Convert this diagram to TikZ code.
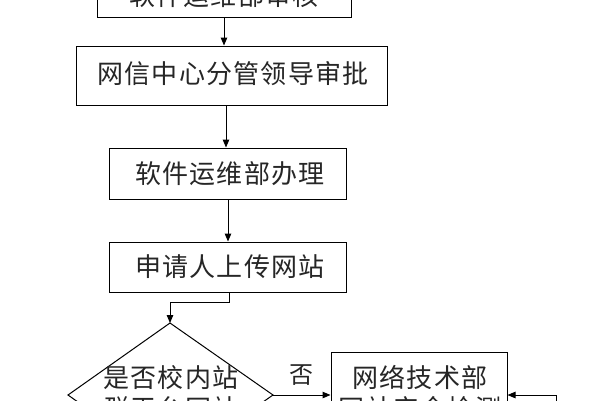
\documentclass[tikz,border=0pt]{standalone}
\usepackage{fontspec}
\newfontfamily\cjk[LetterSpace=5]{Noto Sans CJK SC}
\usetikzlibrary{arrows.meta,calc}
\begin{document}
\begin{tikzpicture}[x=1pt,y=-1pt,
  line width=1pt,
  arr/.style={-{Triangle[length=8pt,width=6.5pt]}},
  box/.style={draw,rectangle,inner sep=0pt},
  txt/.style={font=\cjk\fontsize{26}{31}\selectfont,text=black!85,align=center,inner sep=0pt}]
\useasboundingbox[fill=white] (0,0) rectangle (600,400);
% boxes
\node[box,minimum width=254pt,minimum height=42pt] (b1) at (224,-4) {};
\node[txt] (t1) at (224,-4) {软件运维部审核};
\node[box,minimum width=311pt,minimum height=59pt] (b2) at (231.5,75.5) {};
\node[txt] (t2) at (233,74) {网信中心分管领导审批};
\node[box,minimum width=237pt,minimum height=51pt] (b3) at (227.5,173.5) {};
\node[txt] (t3) at (230,173.5) {软件运维部办理};
\node[box,minimum width=237pt,minimum height=50pt] (b4) at (227.5,267) {};
\node[txt] (t4) at (230,267) {申请人上传网站};
\node[box,minimum width=176pt,minimum height=84pt] (b5) at (419,394) {};
\node[txt] (t5) at (420,392.5) {网络技术部\\网站安全检测};
% diamond
\coordinate (dtop) at (170,323);
\coordinate (dright) at (273,395);
\coordinate (dbot) at (170,467);
\coordinate (dleft) at (68,395);
\draw (dtop) -- (dright) -- (dbot) -- (dleft) -- cycle;
\node[txt] (td) at (171,393.5) {是否校内站\\群平台网站};
% connectors
\draw[arr] (b1.south) -- (b1.south |- b2.north);
\draw[arr] ([xshift=-5.5pt]b2.south) -- ([xshift=-5.5pt]b2.south |- b3.north);
\draw[arr] ([xshift=0.5pt]b3.south) -- ([xshift=0.5pt]b3.south |- b4.north);
\coordinate (k1) at (229,302);
\draw[arr] ([xshift=1.5pt]b4.south) -- ([xshift=1.5pt]b4.south |- k1) -- (k1 -| dtop) -- (dtop);
\draw[arr] (dright) -- (dright -| b5.west) node[midway,above=9pt,txt,font=\cjk\fontsize{24}{26}\selectfont] (no) {否};
\coordinate (r1) at (556,420);
\draw[arr] (r1) -- (r1 |- dright) -- (dright -| b5.east);
\end{tikzpicture}
\end{document}
